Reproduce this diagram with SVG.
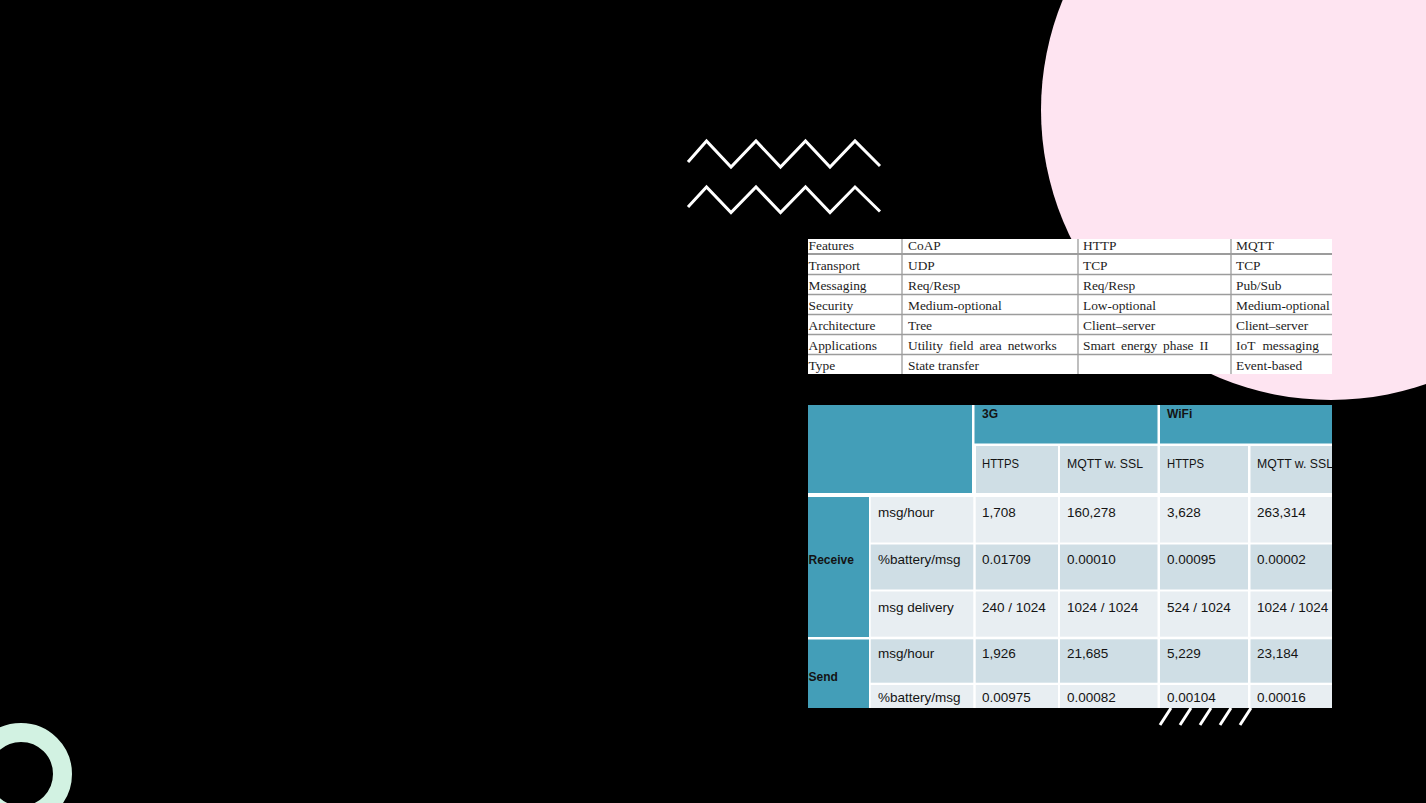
<svg xmlns="http://www.w3.org/2000/svg" width="1426" height="803" viewBox="0 0 1426 803">
<style>
.ser{font-family:"Liberation Serif","Times New Roman",serif;font-size:13.4px;fill:#1c1c1c}
.sans{font-family:"Liberation Sans",Arial,sans-serif;font-size:13.5px;fill:#141414}
.b{font-weight:bold;font-size:12px}
.teal{fill:#439EB8}
.dk{fill:#CFDEE5}
.lt{fill:#E8EEF2}
.grid{stroke:#9c9c9c;stroke-width:1.3;fill:none}
.zz{fill:none;stroke:#fff;stroke-width:3;stroke-linejoin:miter}
.sl{stroke:#fff;stroke-width:3}
</style>
<defs>
<clipPath id="c1"><rect x="808" y="239" width="524" height="135"/></clipPath>
<clipPath id="c2"><rect x="808" y="405" width="524" height="303"/></clipPath>
</defs>
<rect width="1426" height="803" fill="#000"/>
<g id="pink-circle"><circle cx="1331" cy="110" r="290" fill="#FEE4F1"/></g>
<g id="green-ring"><circle cx="21" cy="774" r="41.5" fill="none" stroke="#D2F2E2" stroke-width="19"/></g>
<g id="zigzags">
<polyline class="zz" points="688,162 706.5,141 731,167 756,141 780.5,167 805.5,141 830,167 855,141 880,166"/>
<polyline class="zz" points="688,207 706.5,187 731,212.5 756,187 780.5,212.5 805.5,187 830,212.5 855,187 880,211.5"/>
</g>
<g id="slashes">
<line class="sl" x1="1160" y1="725" x2="1171" y2="708"/>
<line class="sl" x1="1180" y1="725" x2="1191" y2="708"/>
<line class="sl" x1="1200" y1="725" x2="1211" y2="708"/>
<line class="sl" x1="1220" y1="725" x2="1231" y2="708"/>
<line class="sl" x1="1240" y1="725" x2="1251" y2="708"/>
</g>
<g id="table-protocols" clip-path="url(#c1)">
<rect x="808" y="239" width="524" height="135" fill="#fff"/>
<g class="grid">
<line x1="808" y1="254" x2="1332" y2="254" stroke-width="2"/>
<line x1="808" y1="274.5" x2="1332" y2="274.5"/>
<line x1="808" y1="294.5" x2="1332" y2="294.5"/>
<line x1="808" y1="314.5" x2="1332" y2="314.5"/>
<line x1="808" y1="334.5" x2="1332" y2="334.5"/>
<line x1="808" y1="354.5" x2="1332" y2="354.5"/>
<line x1="902" y1="239" x2="902" y2="374"/>
<line x1="1078" y1="239" x2="1078" y2="374"/>
<line x1="1231" y1="239" x2="1231" y2="374"/>
</g>
<g class="ser">
<text x="808.5" y="249.5">Features</text><text x="908" y="249.5">CoAP</text><text x="1083" y="249.5">HTTP</text><text x="1236" y="249.5">MQTT</text>
<text x="808.5" y="269.5">Transport</text><text x="908" y="269.5">UDP</text><text x="1083" y="269.5">TCP</text><text x="1236" y="269.5">TCP</text>
<text x="808.5" y="289.5">Messaging</text><text x="908" y="289.5">Req/Resp</text><text x="1083" y="289.5">Req/Resp</text><text x="1236" y="289.5">Pub/Sub</text>
<text x="808.5" y="309.5">Security</text><text x="908" y="309.5">Medium-optional</text><text x="1083" y="309.5">Low-optional</text><text x="1236" y="309.5">Medium-optional</text>
<text x="808.5" y="329.5">Architecture</text><text x="908" y="329.5">Tree</text><text x="1083" y="329.5">Client–server</text><text x="1236" y="329.5">Client–server</text>
<text x="808.5" y="349.5">Applications</text><text x="908" y="349.5" word-spacing="2.6">Utility field area networks</text><text x="1083" y="349.5" word-spacing="2.6">Smart energy phase II</text><text x="1236" y="349.5" word-spacing="4">IoT messaging</text>
<text x="808.5" y="369.5">Type</text><text x="908" y="369.5">State transfer</text><text x="1236" y="369.5">Event-based</text>
</g>
</g>
<g id="table-performance" clip-path="url(#c2)">
<rect x="808" y="405" width="524" height="303" fill="#fff"/>
<rect class="teal" x="808" y="405" width="164" height="88"/>
<rect class="teal" x="974.5" y="405" width="183" height="38.5"/>
<rect class="teal" x="1160" y="405" width="172" height="38.5"/>
<rect class="dk" x="976" y="446" width="82" height="47"/>
<rect class="dk" x="1060" y="446" width="97.5" height="47"/>
<rect class="dk" x="1160" y="446" width="88" height="47"/>
<rect class="dk" x="1250.5" y="446" width="82" height="47"/>
<rect class="teal" x="808" y="497" width="61" height="140"/>
<rect class="teal" x="808" y="639.5" width="61" height="69"/>
<g id="row-r1">
<rect class="lt" x="870.7" y="497" width="102.6" height="45.5"/>
<rect class="lt" x="975.7" y="497" width="82.3" height="45.5"/>
<rect class="lt" x="1060" y="497" width="97.5" height="45.5"/>
<rect class="lt" x="1160" y="497" width="88" height="45.5"/>
<rect class="lt" x="1250.5" y="497" width="82" height="45.5"/>
</g>
<g id="row-r2">
<rect class="dk" x="870.7" y="544.5" width="102.6" height="45"/>
<rect class="dk" x="975.7" y="544.5" width="82.3" height="45"/>
<rect class="dk" x="1060" y="544.5" width="97.5" height="45"/>
<rect class="dk" x="1160" y="544.5" width="88" height="45"/>
<rect class="dk" x="1250.5" y="544.5" width="82" height="45"/>
</g>
<g id="row-r3">
<rect class="lt" x="870.7" y="591.5" width="102.6" height="45.2"/>
<rect class="lt" x="975.7" y="591.5" width="82.3" height="45.2"/>
<rect class="lt" x="1060" y="591.5" width="97.5" height="45.2"/>
<rect class="lt" x="1160" y="591.5" width="88" height="45.2"/>
<rect class="lt" x="1250.5" y="591.5" width="82" height="45.2"/>
</g>
<g id="row-s1">
<rect class="dk" x="870.7" y="639.3" width="102.6" height="43.4"/>
<rect class="dk" x="975.7" y="639.3" width="82.3" height="43.4"/>
<rect class="dk" x="1060" y="639.3" width="97.5" height="43.4"/>
<rect class="dk" x="1160" y="639.3" width="88" height="43.4"/>
<rect class="dk" x="1250.5" y="639.3" width="82" height="43.4"/>
</g>
<g id="row-s2">
<rect class="lt" x="870.7" y="685" width="102.6" height="24"/>
<rect class="lt" x="975.7" y="685" width="82.3" height="24"/>
<rect class="lt" x="1060" y="685" width="97.5" height="24"/>
<rect class="lt" x="1160" y="685" width="88" height="24"/>
<rect class="lt" x="1250.5" y="685" width="82" height="24"/>
</g>
<g class="sans">
<text class="sans b" x="982" y="417.5">3G</text>
<text class="sans b" x="1167" y="417.5">WiFi</text>
<text x="982" y="468" textLength="37" lengthAdjust="spacingAndGlyphs">HTTPS</text><text x="1067" y="468" textLength="76" lengthAdjust="spacingAndGlyphs">MQTT w. SSL</text><text x="1167" y="468" textLength="37" lengthAdjust="spacingAndGlyphs">HTTPS</text><text x="1257" y="468" textLength="76" lengthAdjust="spacingAndGlyphs">MQTT w. SSL</text>
<text class="sans b" x="808.5" y="564">Receive</text>
<text class="sans b" x="808.5" y="680.5">Send</text>
<text x="878" y="517">msg/hour</text><text x="982" y="517">1,708</text><text x="1067" y="517">160,278</text><text x="1167" y="517">3,628</text><text x="1257" y="517">263,314</text>
<text x="878" y="564">%battery/msg</text><text x="982" y="564">0.01709</text><text x="1067" y="564">0.00010</text><text x="1167" y="564">0.00095</text><text x="1257" y="564">0.00002</text>
<text x="878" y="611.5">msg delivery</text><text x="982" y="611.5">240 / 1024</text><text x="1067" y="611.5">1024 / 1024</text><text x="1167" y="611.5">524 / 1024</text><text x="1257" y="611.5">1024 / 1024</text>
<text x="878" y="658">msg/hour</text><text x="982" y="658">1,926</text><text x="1067" y="658">21,685</text><text x="1167" y="658">5,229</text><text x="1257" y="658">23,184</text>
<text x="878" y="702">%battery/msg</text><text x="982" y="702">0.00975</text><text x="1067" y="702">0.00082</text><text x="1167" y="702">0.00104</text><text x="1257" y="702">0.00016</text>
</g>
</g>
</svg>
